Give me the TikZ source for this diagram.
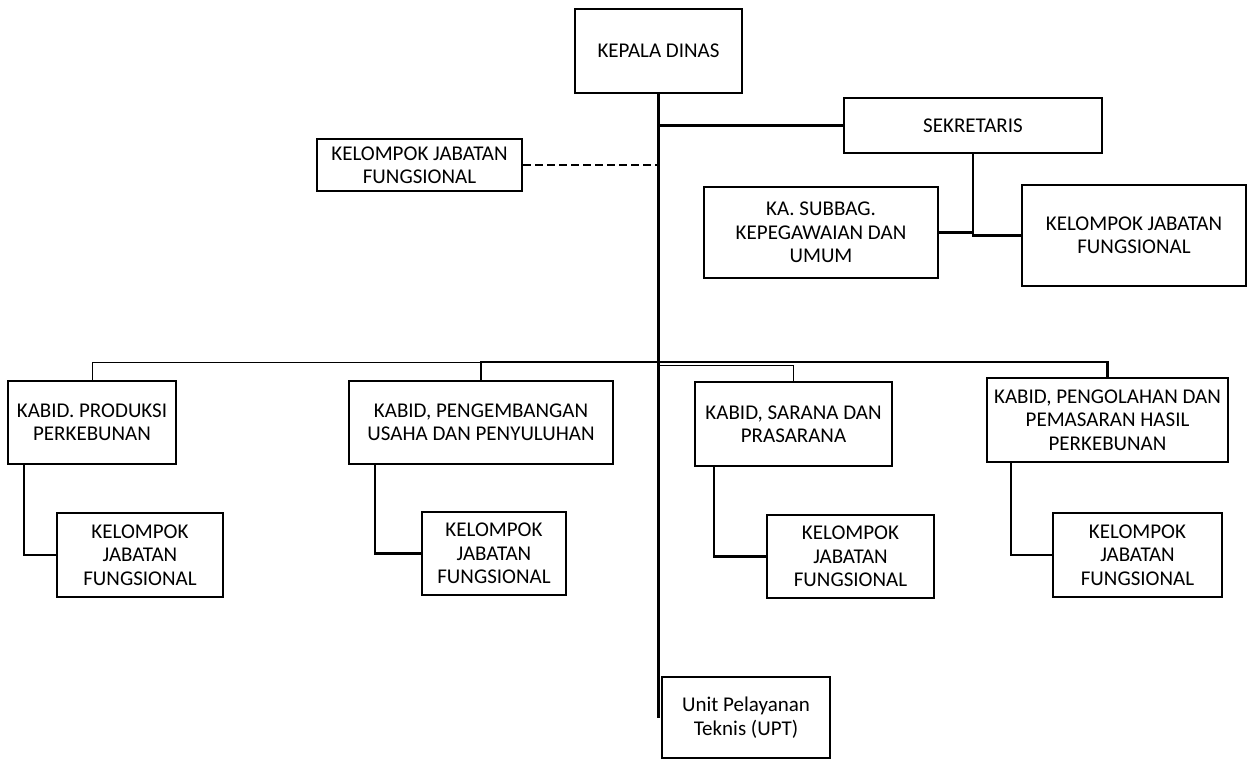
\documentclass[tikz,border=0pt]{standalone}
\usepackage{fontspec}
\setmainfont{Carlito}
\usepackage{tikz}

\tikzset{
  unit/.style={draw=black, line width=1.1pt, fill=white, align=center, inner sep=0pt,
    font=\fontsize{10.5}{11.7}\selectfont},
  link/.style={color=black, line width=1.1pt},
  thinlink/.style={color=black, line width=0.5pt}
}

\begin{document}
\begin{tikzpicture}[x=0.5pt, y=-0.5pt]
    \useasboundingbox (0, 0) rectangle (1248, 760);

    % draw top units
    \node[unit, minimum width=83.5pt, minimum height=42pt] (kepala) at (658.5, 51) {KEPALA DINAS};
    \node[unit, minimum width=129pt, minimum height=27.5pt] (sekretaris) at (973, 125.5) {SEKRETARIS};
    \node[unit, minimum width=102.5pt, minimum height=26pt] (kjfdinas) at (419.5, 165) {KELOMPOK JABATAN\\FUNGSIONAL};
    \node[unit, minimum width=117pt, minimum height=45.5pt] (subbag) at (821, 232.5) {KA. SUBBAG.\\KEPEGAWAIAN DAN\\UMUM};
    \node[unit, minimum width=112pt, minimum height=50.5pt] (kjfsekr) at (1134, 235.5) {KELOMPOK JABATAN\\FUNGSIONAL};

    % draw bidang units
    \node[unit, minimum width=84pt, minimum height=41.5pt] (produksi) at (92, 422.5) {KABID. PRODUKSI\\PERKEBUNAN};
    \node[unit, minimum width=132pt, minimum height=41.5pt] (pengembangan) at (481, 422.5) {KABID, PENGEMBANGAN\\USAHA DAN PENYULUHAN};
    \node[unit, minimum width=98.5pt, minimum height=42pt] (sarana) at (793.5, 424) {KABID, SARANA DAN\\PRASARANA};
    \node[unit, minimum width=120.5pt, minimum height=42pt] (pengolahan) at (1107.5, 420) {KABID, PENGOLAHAN DAN\\PEMASARAN HASIL\\PERKEBUNAN};

    % draw fungsional groups under each bidang
    \node[unit, minimum width=83pt, minimum height=42pt] (kjfprod) at (140, 555) {KELOMPOK\\JABATAN\\FUNGSIONAL};
    \node[unit, minimum width=72pt, minimum height=41.5pt] (kjfpeng) at (494, 553.5) {KELOMPOK\\JABATAN\\FUNGSIONAL};
    \node[unit, minimum width=83.5pt, minimum height=41.5pt] (kjfsar) at (850.5, 556.5) {KELOMPOK\\JABATAN\\FUNGSIONAL};
    \node[unit, minimum width=84.5pt, minimum height=42pt] (kjfolah) at (1137.5, 555) {KELOMPOK\\JABATAN\\FUNGSIONAL};

    % draw upt
    \node[unit, minimum width=84pt, minimum height=40.5pt] (upt) at (746, 717.5) {Unit Pelayanan\\Teknis (UPT)};

    % main line
    \coordinate (mainend) at (kepala.south |- 0, 718);
    \coordinate (bus) at (kepala.south |- 0, 362);
    \coordinate (sbus) at (kepala.south |- 0, 365);
    \draw[link] (kepala.south) -- (mainend);

    % sekretariat
    \draw[link] (kepala.south |- sekretaris.west) -- (sekretaris.west);
    \draw[link, dash pattern=on 4pt off 2pt] (kjfdinas.east) -- (kjfdinas.east -| kepala.south);
    \draw[link] (sekretaris.south) |- (kjfsekr.west);
    \draw[link] (subbag.east) -- (subbag.east -| sekretaris.south);

    % bidang bus
    \draw[link] (pengembangan.north) |- (bus) -| (pengolahan.north);
    \draw[thinlink] (produksi.north) |- (bus);
    \draw[thinlink] (sbus) -| (sarana.north);

    % bidang to fungsional
    \draw[link] ([xshift=8.5pt]produksi.south west) |- (kjfprod.west);
    \draw[link] ([xshift=13.5pt]pengembangan.south west) |- (kjfpeng.west);
    \draw[link] ([xshift=10pt]sarana.south west) |- (kjfsar.west);
    \draw[link] ([xshift=12.5pt]pengolahan.south west) |- (kjfolah.west);
\end{tikzpicture}
\end{document}
